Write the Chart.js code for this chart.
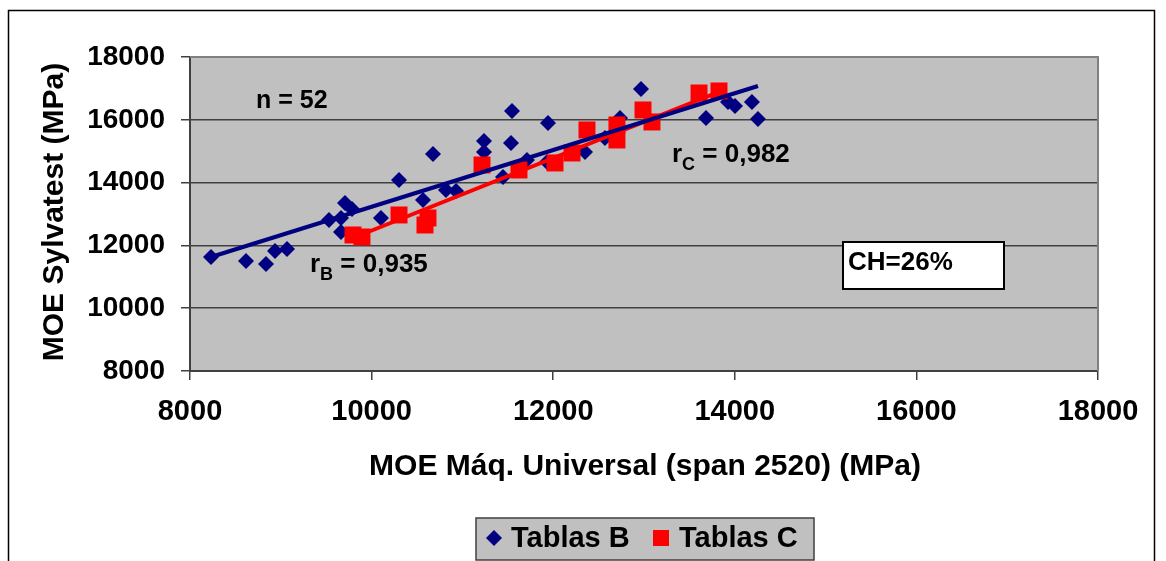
<!DOCTYPE html>
<html>
<head>
<meta charset="utf-8">
<script src="https://cdn.jsdelivr.net/npm/chart.js@4.4.1/dist/chart.umd.min.js"></script>
<style>
  html, body { margin: 0; padding: 0; background: #ffffff; }
  canvas { display: block; }
</style>
</head>
<body>
<canvas id="chart" width="1166" height="561" style="width:1166px;height:561px"></canvas>
<script>
// MOE measured on the universal testing machine (x) vs. Sylvatest (y), MPa
const tablasB_x = [8231, 8617, 8837, 8936, 9068, 9531, 9707, 9784, 9663, 9663, 10103, 10302,
                   10566, 10676, 10819, 10930, 11238, 11238, 11546, 11535, 11447, 11711, 11943,
                   11932, 12350, 12570, 12736, 12967, 13683, 13925, 14002, 14189, 14255];
const tablasB_y = [11631, 11504, 11408, 11822, 11886, 12809, 13351, 13160, 12873, 12427, 12873, 14083,
                   13446, 14911, 13765, 13733, 15326, 14975, 16281, 15262, 14179, 14720, 15899,
                   14657, 14975, 15421, 16058, 16982, 16058, 16568, 16440, 16568, 16026];

const tablasC_x = [9795, 9894, 10302, 10588, 10621, 11216, 11623, 12020, 12207, 12372, 12702,
                   12702, 12989, 13088, 13606, 13826];
const tablasC_y = [12332, 12268, 12969, 12650, 12873, 14561, 14402, 14625, 14943, 15676, 15835,
                   15357, 16313, 15931, 16854, 16918];

// Linear trend lines (end points)
const trendB_x = [8231, 14255];
const trendB_y = [11631, 17077];
const trendC_x = [9795, 13826];
const trendC_y = [12236, 16886];

// Axes
const xRange = [8000, 18000];
const yRange = [8000, 18000];
const tickStep = 2000;

const seriesNames = ['Tablas B', 'Tablas C'];
const xTitle = 'MOE Máq. Universal (span 2520) (MPa)';
const yTitle = 'MOE Sylvatest (MPa)';
const sampleText = 'n = 52';
const rB = ['r', 'B', ' = 0,935'];
const rC = ['r', 'C', ' = 0,982'];
const moistureText = 'CH=26%';

const NAVY = '#000080';
const RED = '#ff0000';
const FONT = '"Liberation Sans", Arial, Helvetica, sans-serif';

const toPoints = (xs, ys) => xs.map((x, i) => ({ x: x, y: ys[i] }));

function bold(size) { return 'bold ' + size + 'px ' + FONT; }

function drawSubscripted(ctx, x, y, parts, size) {
  ctx.textAlign = 'left';
  ctx.textBaseline = 'alphabetic';
  ctx.fillStyle = '#000';
  ctx.font = bold(size);
  ctx.fillText(parts[0], x, y);
  let cx = x + ctx.measureText(parts[0]).width;
  ctx.font = bold(Math.round(size * 0.68));
  ctx.fillText(parts[1], cx, y + size * 0.3);
  cx += ctx.measureText(parts[1]).width;
  ctx.font = bold(size);
  ctx.fillText(parts[2], cx, y);
}

const decorPlugin = {
  id: 'decor',
  beforeDraw(chart) {
    const ctx = chart.ctx;
    const a = chart.chartArea;
    ctx.save();
    ctx.fillStyle = '#ffffff';
    ctx.fillRect(0, 0, chart.width, chart.height);
    ctx.fillStyle = '#c0c0c0';
    ctx.fillRect(a.left, a.top, a.right - a.left, a.bottom - a.top);
    ctx.restore();
  },
  beforeDatasetsDraw(chart) {
    const ctx = chart.ctx;
    const a = chart.chartArea;
    ctx.save();
    ctx.strokeStyle = '#808080';
    ctx.lineWidth = 2;
    ctx.beginPath();
    ctx.moveTo(a.left, a.top);
    ctx.lineTo(a.right, a.top);
    ctx.lineTo(a.right, a.bottom);
    ctx.stroke();
    ctx.restore();
  },
  afterDraw(chart) {
    const ctx = chart.ctx;
    const a = chart.chartArea;
    ctx.save();

    // outer frame
    ctx.strokeStyle = '#000';
    ctx.lineWidth = 1.5;
    ctx.strokeRect(8.5, 10.5, 1146, 560);

    // axis titles
    ctx.fillStyle = '#000';
    ctx.font = bold(30);
    ctx.textAlign = 'center';
    ctx.textBaseline = 'middle';
    ctx.fillText(xTitle, 645, 467);
    ctx.save();
    ctx.translate(55, 212);
    ctx.rotate(-Math.PI / 2);
    ctx.fillText(yTitle, 0, 0);
    ctx.restore();

    // annotations
    ctx.font = bold(25);
    ctx.textAlign = 'left';
    ctx.textBaseline = 'middle';
    ctx.fillText(sampleText, a.left + 66, a.top + 44);
    drawSubscripted(ctx, a.left + 120, a.top + 215, rB, 26);
    drawSubscripted(ctx, a.left + 482, a.top + 105, rC, 26);

    // moisture content box
    ctx.fillStyle = '#ffffff';
    ctx.fillRect(843, 242, 161, 47);
    ctx.strokeStyle = '#000';
    ctx.lineWidth = 2;
    ctx.strokeRect(843, 242, 161, 47);
    ctx.fillStyle = '#000';
    ctx.font = bold(26);
    ctx.textAlign = 'left';
    ctx.textBaseline = 'middle';
    ctx.fillText(moistureText, 848, 263);

    // legend
    ctx.fillStyle = '#c0c0c0';
    ctx.fillRect(476, 518, 338, 42);
    ctx.strokeStyle = '#404040';
    ctx.lineWidth = 1.5;
    ctx.strokeRect(476, 518, 338, 42);
    const ly = 538;
    ctx.fillStyle = NAVY;
    ctx.beginPath();
    ctx.moveTo(494 - 8, ly);
    ctx.lineTo(494, ly - 8);
    ctx.lineTo(494 + 8, ly);
    ctx.lineTo(494, ly + 8);
    ctx.closePath();
    ctx.fill();
    ctx.fillStyle = RED;
    ctx.fillRect(653, ly - 8, 16, 16);
    ctx.fillStyle = '#000';
    ctx.font = bold(29);
    ctx.fillText(seriesNames[0], 511, ly + 1);
    ctx.fillText(seriesNames[1], 679, ly + 1);

    ctx.restore();
  }
};

const plainTick = (v) => String(v);

new Chart(document.getElementById('chart'), {
  type: 'scatter',
  data: {
    datasets: [
      {
        label: seriesNames[0] + ' trend',
        data: toPoints(trendB_x, trendB_y),
        showLine: true,
        borderColor: NAVY,
        borderWidth: 4,
        pointRadius: 0,
        order: 0
      },
      {
        label: seriesNames[1] + ' trend',
        data: toPoints(trendC_x, trendC_y),
        showLine: true,
        borderColor: RED,
        borderWidth: 4,
        pointRadius: 0,
        order: 1
      },
      {
        label: seriesNames[1],
        data: toPoints(tablasC_x, tablasC_y),
        pointStyle: 'rect',
        pointRadius: 12,
        backgroundColor: RED,
        borderColor: RED,
        borderWidth: 0,
        order: 2
      },
      {
        label: seriesNames[0],
        data: toPoints(tablasB_x, tablasB_y),
        pointStyle: 'rectRot',
        pointRadius: 8,
        backgroundColor: NAVY,
        borderColor: NAVY,
        borderWidth: 0,
        order: 3
      }
    ]
  },
  options: {
    responsive: false,
    animation: false,
    layout: { padding: { left: 0, top: 57, right: 68, bottom: 0 } },
    plugins: {
      legend: { display: false },
      tooltip: { enabled: false },
      title: { display: false }
    },
    scales: {
      x: {
        type: 'linear',
        min: xRange[0],
        max: xRange[1],
        ticks: {
          stepSize: tickStep,
          color: '#000',
          font: { family: FONT, size: 29, weight: 'bold' },
          padding: 15,
          maxRotation: 0,
          callback: plainTick
        },
        grid: {
          drawOnChartArea: false,
          drawTicks: true,
          tickLength: 9,
          color: '#404040',
          lineWidth: 1.5
        },
        border: { color: '#404040', width: 2 },
        afterFit(scale) { scale.height = 190; }
      },
      y: {
        type: 'linear',
        min: yRange[0],
        max: yRange[1],
        ticks: {
          stepSize: tickStep,
          color: '#000',
          font: { family: FONT, size: 28, weight: 'bold' },
          padding: 16,
          callback: plainTick
        },
        grid: {
          drawOnChartArea: true,
          drawTicks: true,
          tickLength: 9,
          color: '#404040',
          lineWidth: 1.5
        },
        border: { color: '#404040', width: 2 },
        afterFit(scale) { scale.width = 190; }
      }
    }
  },
  plugins: [decorPlugin]
});
</script>
</body>
</html>
